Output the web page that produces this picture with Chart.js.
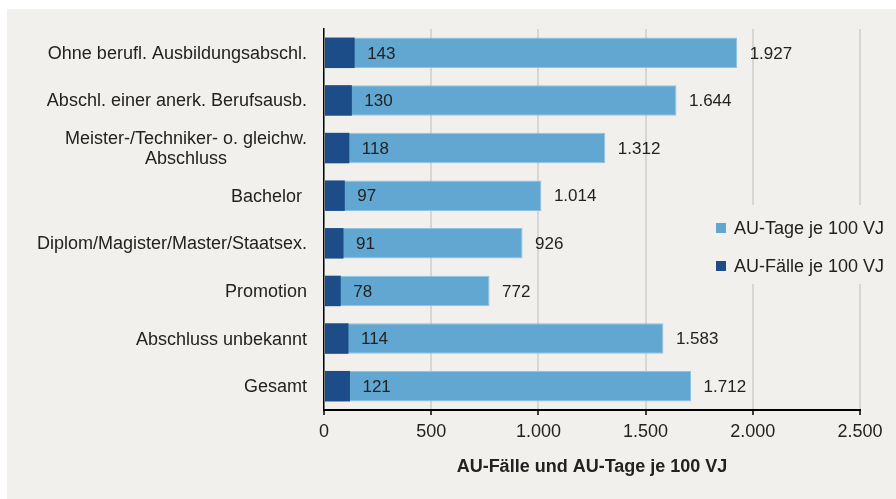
<!DOCTYPE html>
<html>
<head>
<meta charset="utf-8">
<script src="https://cdn.jsdelivr.net/npm/chart.js@4/dist/chart.umd.min.js"></script>
<style>
  html, body { margin: 0; padding: 0; background: #ffffff; }
  canvas { display: block; }
</style>
</head>
<body>
<canvas id="c" width="896" height="499"></canvas>
<script>
const categories = [
  "Ohne berufl. Ausbildungsabschl.",
  "Abschl. einer anerk. Berufsausb.",
  ["Meister-/Techniker- o. gleichw.", "Abschluss"],
  "Bachelor ",
  "Diplom/Magister/Master/Staatsex.",
  "Promotion",
  "Abschluss unbekannt",
  "Gesamt"
];
const auTage = [1927, 1644, 1312, 1014, 926, 772, 1583, 1712];
const auFaelle = [143, 130, 118, 97, 91, 78, 114, 121];
const seriesNames = ["AU-Tage je 100 VJ", "AU-Fälle je 100 VJ"];
const axisTitle = "AU-Fälle und AU-Tage je 100 VJ";
const xTicks = [0, 500, 1000, 1500, 2000, 2500];

const LIGHT = "#62a7d2";
const DARK = "#1d4d89";
const BG = "#f1f0ed";
const TEXT = "#222222";
const FONT = "'Liberation Sans', Arial, sans-serif";

function fmt(v) {
  const s = String(Math.round(v));
  return s.replace(/\B(?=(\d{3})+(?!\d))/g, ".");
}

const bgPlugin = {
  id: "bg",
  beforeDraw(chart) {
    const ctx = chart.ctx;
    ctx.save();
    ctx.fillStyle = "#ffffff";
    ctx.fillRect(0, 0, chart.width, chart.height);
    ctx.fillStyle = BG;
    ctx.fillRect(7, 9, chart.width - 7, chart.height - 9);
    ctx.restore();
  }
};

// Category labels: right aligned block, multi-line entries centred within their block
const catLabelPlugin = {
  id: "catLabels",
  afterDraw(chart) {
    const ctx = chart.ctx;
    const ys = chart.scales.y;
    const right = ys.right - 17;
    const lh = 20;
    ctx.save();
    ctx.font = "18px " + FONT;
    ctx.fillStyle = TEXT;
    ctx.textBaseline = "middle";
    categories.forEach((lab, i) => {
      const lines = Array.isArray(lab) ? lab : [lab];
      const widths = lines.map(l => ctx.measureText(l).width);
      const w = Math.max(...widths);
      const cy = ys.getPixelForValue(i);
      const y0 = cy - (lines.length - 1) * lh / 2;
      lines.forEach((l, k) => {
        ctx.textAlign = "center";
        ctx.fillText(l, right - w / 2, y0 + k * lh + 1);
      });
    });
    ctx.restore();
  }
};

const labelPlugin = {
  id: "valueLabels",
  afterDatasetsDraw(chart) {
    const ctx = chart.ctx;
    const xs = chart.scales.x;
    const metaT = chart.getDatasetMeta(0);
    ctx.save();
    ctx.font = "17px " + FONT;
    ctx.fillStyle = TEXT;
    ctx.textBaseline = "middle";
    ctx.textAlign = "left";
    auTage.forEach((v, i) => {
      const y = metaT.data[i].y;
      ctx.fillText(fmt(auFaelle[i]), xs.getPixelForValue(auFaelle[i]) + 12.5, y + 1);
      ctx.fillText(fmt(v), xs.getPixelForValue(v) + 12.5, y + 1);
    });
    ctx.restore();
  }
};

const legendPlugin = {
  id: "customLegend",
  afterDraw(chart) {
    const ctx = chart.ctx;
    ctx.save();
    ctx.fillStyle = BG;
    ctx.fillRect(706, 205, 188, 79);
    const items = [
      { name: seriesNames[0], color: LIGHT, y: 228 },
      { name: seriesNames[1], color: DARK, y: 266 }
    ];
    ctx.font = "18px " + FONT;
    ctx.textBaseline = "middle";
    ctx.textAlign = "left";
    items.forEach(it => {
      ctx.fillStyle = it.color;
      ctx.fillRect(716, it.y - 5, 10, 10);
      ctx.fillStyle = TEXT;
      ctx.fillText(it.name, 734, it.y + 1);
    });
    ctx.restore();
  }
};

new Chart(document.getElementById("c"), {
  type: "bar",
  data: {
    labels: categories,
    datasets: [
      {
        label: seriesNames[0],
        data: auTage,
        backgroundColor: LIGHT,
        borderColor: "#8ec2e3",
        borderWidth: 1,
        borderSkipped: "start",
        order: 2,
        barPercentage: 0.64,
        categoryPercentage: 1.0
      },
      {
        label: seriesNames[1],
        data: auFaelle,
        backgroundColor: DARK,
        borderWidth: 0,
        order: 1,
        barPercentage: 0.64,
        categoryPercentage: 1.0
      }
    ]
  },
  options: {
    indexAxis: "y",
    responsive: false,
    animation: false,
    devicePixelRatio: 1,
    layout: { padding: { left: 0, top: 29, right: 36, bottom: 0 } },
    plugins: {
      legend: { display: false },
      tooltip: { enabled: false },
      title: { display: false }
    },
    scales: {
      y: {
        stacked: true,
        grid: { display: false, drawTicks: false },
        border: { display: true, color: "#000000", width: 1.5 },
        ticks: { display: false },
        afterFit(scale) { scale.width = 324; }
      },
      x: {
        stacked: false,
        min: 0,
        max: 2500,
        afterBuildTicks(scale) { scale.ticks = xTicks.map(v => ({ value: v })); },
        grid: {
          color: ctx => (ctx.tick && ctx.tick.value === 0 ? "rgba(0,0,0,0)" : "#d6d6d6"),
          lineWidth: 2,
          drawTicks: true,
          tickLength: 5,
          tickColor: "#000000",
          tickWidth: 1.5
        },
        border: { display: true, color: "#000000", width: 2 },
        ticks: {
          color: TEXT,
          padding: 6,
          maxRotation: 0,
          font: { family: FONT, size: 18 },
          callback: v => fmt(v)
        },
        title: {
          display: true,
          text: axisTitle,
          color: TEXT,
          font: { family: FONT, size: 18, weight: "bold" },
          padding: { top: 0, bottom: 21 }
        },
        afterFit(scale) { scale.height = 89; }
      }
    }
  },
  plugins: [bgPlugin, labelPlugin, legendPlugin, catLabelPlugin]
});
</script>
</body>
</html>
